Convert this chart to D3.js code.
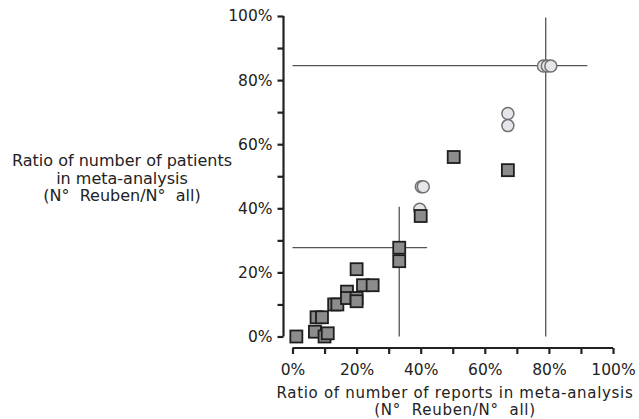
<!DOCTYPE html>
<html>
<head>
<meta charset="utf-8">
<script src="https://cdn.jsdelivr.net/npm/d3@7"></script>
<style>
  body { margin: 0; background: #fff; }
  text { font-family: "DejaVu Sans", Verdana, sans-serif; fill: #222; }
</style>
</head>
<body>
<div id="chart"></div>
<script>
// studies: ratio of reports (x) vs ratio of patients (y), in %
var squaresX = [1.2, 7, 7.5, 9.2, 10, 11, 13, 14, 17, 17, 20, 20, 20, 22, 25, 33.3, 33.3, 40, 50.3, 67.2];
var squaresY = [0, 1.5, 6, 6, 0, 1, 10, 10, 14, 12, 21, 12, 11, 16, 16, 27.7, 23.5, 37.6, 56, 51.9];

var circlesX = [40.2, 40.8, 39.7, 67.2, 67.2, 78.3, 79.5, 80.6];
var circlesY = [46.7, 46.7, 39.7, 69.6, 65.8, 84.4, 84.4, 84.4];

// crosshair summary lines
var crossX = [33.3, 79];
var crossY = [27.7, 84.5];
var crossXMax = [42, 92];
var crossYMax = [40.5, 99.5];

var tickValues = [0, 20, 40, 60, 80, 100];

var width = 639, height = 419;

var svg = d3.select("#chart").append("svg")
  .attr("width", width)
  .attr("height", height);

var x = d3.scaleLinear().domain([0, 100]).range([292.5, 613]);
var y = d3.scaleLinear().domain([0, 100]).range([336.5, 16]);

var fmt = function(d){ return d + "%"; };
var labelIf = function(d){ return tickValues.indexOf(d) >= 0 ? fmt(d) : ""; };

// y axis
var yg = svg.append("g")
  .attr("transform", "translate(283.5,0)")
  .call(d3.axisLeft(y).tickValues(d3.range(0, 101, 10)).tickSize(6).tickPadding(5)
    .tickFormat(labelIf));

// x axis
var xg = svg.append("g")
  .attr("transform", "translate(0,348)")
  .call(d3.axisBottom(x).tickValues(d3.range(0, 101, 10)).tickSize(6).tickPadding(10)
    .tickFormat(labelIf));

[yg, xg].forEach(function(g){
  g.select(".domain").attr("stroke", "#222").attr("stroke-width", 2.2);
  g.selectAll(".tick line").attr("stroke", "#222").attr("stroke-width", 2.2);
  g.selectAll(".tick text").style("font-size", "15.5px").attr("fill", "#222");
});
yg.select(".domain").attr("d", "M0," + y(100) + "V" + y(0));
xg.select(".domain").attr("d", "M" + x(0) + ",0H" + x(100));

// crosshairs
crossX.forEach(function(cx, i){
  svg.append("line")
    .attr("x1", x(0)).attr("x2", x(crossXMax[i]))
    .attr("y1", y(crossY[i])).attr("y2", y(crossY[i]))
    .attr("stroke", "#555").attr("stroke-width", 1.3);
  svg.append("line")
    .attr("x1", x(cx)).attr("x2", x(cx))
    .attr("y1", y(crossYMax[i])).attr("y2", y(0))
    .attr("stroke", "#555").attr("stroke-width", 1.3);
});

// circles
svg.selectAll("circle.c")
  .data(d3.zip(circlesX, circlesY))
  .enter().append("circle")
    .attr("class", "c")
    .attr("cx", function(d){ return x(d[0]); })
    .attr("cy", function(d){ return y(d[1]); })
    .attr("r", 6)
    .attr("fill", "#e6e6ea")
    .attr("stroke", "#707070")
    .attr("stroke-width", 1.5);

// squares
var s = 12;
svg.selectAll("rect.s")
  .data(d3.zip(squaresX, squaresY))
  .enter().append("rect")
    .attr("class", "s")
    .attr("x", function(d){ return x(d[0]) - s / 2; })
    .attr("y", function(d){ return y(d[1]) - s / 2; })
    .attr("width", s)
    .attr("height", s)
    .attr("fill", "#8c8c8c")
    .attr("stroke", "#1e1e1e")
    .attr("stroke-width", 1.8);

// axis titles
var yTitle = ["Ratio of number of patients", "in meta-analysis", "(N\u00b0\u00a0\u00a0Reuben/N\u00b0\u00a0\u00a0all)"];
svg.append("text")
  .attr("text-anchor", "middle")
  .style("font-size", "16px")
  .selectAll("tspan")
  .data(yTitle)
  .enter().append("tspan")
    .attr("x", 122)
    .attr("y", function(d, i){ return 166 + i * 17.5; })
    .text(function(d){ return d; });

var xTitle = ["Ratio of number of reports in meta-analysis", "(N\u00b0\u00a0\u00a0Reuben/N\u00b0\u00a0\u00a0all)"];
svg.append("text")
  .attr("text-anchor", "middle")
  .style("font-size", "15px")
  .style("letter-spacing", "0.7px")
  .selectAll("tspan")
  .data(xTitle)
  .enter().append("tspan")
    .attr("x", 455)
    .attr("y", function(d, i){ return 398 + i * 17; })
    .text(function(d){ return d; });
</script>
</body>
</html>
